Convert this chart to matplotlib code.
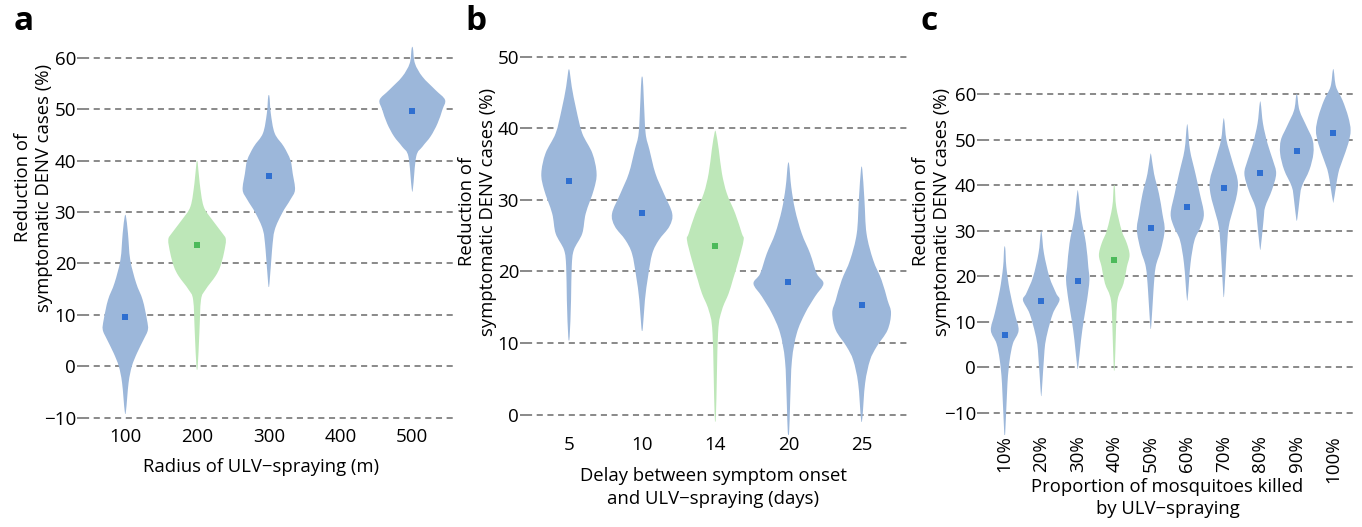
import numpy as np
import matplotlib
matplotlib.use('Agg')
import matplotlib.pyplot as plt
from matplotlib.path import Path
from matplotlib.patches import PathPatch

plt.rcParams['font.family'] = ['Open Sans', 'DejaVu Sans']

# a: radius of ULV-spraying (m)
radius = [100, 200, 300, 500]
radius_mean = [9.5, 23.5, 36.9, 49.6]
# violin outlines: (value, relative half-width)
radius_shape = [
    [(29.1, 0.02), (25.9, 0.08), (20.7, 0.15), (16.2, 0.33), (12.9, 0.53), (9.1, 0.66),
     (7.1, 0.69), (5.2, 0.56), (2.6, 0.36), (0, 0.20), (-3.2, 0.10), (-8.7, 0.02)],
    [(39.5, 0.02), (35.6, 0.08), (31.1, 0.20), (28.5, 0.46), (25.9, 0.77), (24.6, 0.88),
     (22.0, 0.82), (19.4, 0.71), (17.5, 0.56), (14.9, 0.26), (12.9, 0.12), (6.5, 0.07), (0, 0.02)],
    [(52.4, 0.02), (49.2, 0.06), (45.3, 0.18), (42.7, 0.46), (40.1, 0.66), (37.5, 0.73),
     (34.3, 0.80), (32.4, 0.66), (29.8, 0.41), (26.5, 0.18), (22.7, 0.10), (16.1, 0.02)],
    [(61.8, 0.02), (58.9, 0.08), (56.3, 0.31), (53.7, 0.71), (51.8, 1.0), (49.9, 0.92),
     (47.2, 0.77), (44.7, 0.56), (42.7, 0.31), (40.8, 0.12), (34.6, 0.02)],
]
radius_green = [False, True, False, False]

# b: delay between symptom onset and spraying (days)
delay = ['5', '10', '14', '20', '25']
delay_mean = [32.6, 28.2, 23.6, 18.5, 15.3]
delay_shape = [
    [(48.0, 0.02), (45.8, 0.08), (42.6, 0.21), (39.3, 0.38), (36.5, 0.67), (33.7, 0.79),
     (31.4, 0.71), (28.1, 0.48), (25.3, 0.38), (23.0, 0.14), (20.7, 0.08), (16.0, 0.06), (10.9, 0.02)],
    [(46.9, 0.02), (43.9, 0.05), (39.3, 0.10), (37.0, 0.21), (33.7, 0.38), (30.9, 0.62),
     (28.1, 0.86), (26.3, 0.78), (24.4, 0.48), (22.5, 0.29), (19.3, 0.17), (16.0, 0.08), (12.1, 0.02)],
    [(39.4, 0.02), (37.0, 0.10), (33.7, 0.19), (30.9, 0.33), (28.1, 0.57), (25.3, 0.76),
     (24.4, 0.81), (21.6, 0.67), (18.8, 0.50), (16.9, 0.38), (14.6, 0.19), (11.4, 0.08), (0.2, 0.02)],
    [(34.9, 0.02), (31.8, 0.08), (28.6, 0.19), (25.3, 0.38), (22.5, 0.62), (19.7, 0.81),
     (18.3, 1.0), (16.5, 0.76), (14.2, 0.48), (11.4, 0.24), (7.6, 0.10), (2.0, 0.05), (-2.4, 0.02)],
    [(34.2, 0.02), (30.0, 0.08), (25.3, 0.14), (21.6, 0.33), (18.8, 0.57), (16.0, 0.74),
     (14.2, 0.84), (11.8, 0.74), (9.5, 0.43), (7.6, 0.24), (4.4, 0.10), (-0.5, 0.02)],
]
delay_green = [False, False, True, False, False]

# c: proportion of mosquitoes killed
killed = ['10%', '20%', '30%', '40%', '50%', '60%', '70%', '80%', '90%', '100%']
killed_mean = [7.0, 14.6, 19.0, 23.6, 30.5, 35.1, 39.4, 42.6, 47.4, 51.5]
killed_shape = [
    [(26.1, 0.03), (22.0, 0.09), (16.9, 0.27), (11.8, 0.55), (8.1, 0.76), (5.2, 0.45),
     (1.5, 0.27), (-3.6, 0.15), (-14.2, 0.03)],
    [(29.4, 0.03), (25.0, 0.15), (19.8, 0.45), (16.2, 0.82), (14.7, 1.0), (11.8, 0.64),
     (7.4, 0.33), (3.7, 0.18), (-5.4, 0.03)],
    [(38.3, 0.03), (33.0, 0.18), (27.2, 0.45), (22.0, 0.58), (19.1, 0.64), (14.7, 0.51),
     (10.3, 0.33), (5.9, 0.18), (0.2, 0.03)],
    [(39.6, 0.03), (35.2, 0.11), (30.1, 0.40), (27.2, 0.69), (24.6, 0.84), (22.0, 0.69),
     (18.4, 0.51), (14.7, 0.18), (7.4, 0.09), (0, 0.03)],
    [(46.5, 0.03), (42.5, 0.18), (38.1, 0.45), (33.7, 0.64), (30.1, 0.76), (25.7, 0.55),
     (22.0, 0.27), (16.9, 0.15), (9.2, 0.03)],
    [(52.8, 0.03), (47.7, 0.15), (42.5, 0.45), (38.1, 0.69), (33.7, 0.91), (30.8, 0.73),
     (27.9, 0.40), (22.8, 0.18), (15.4, 0.03)],
    [(54.2, 0.03), (49.9, 0.15), (45.5, 0.45), (41.1, 0.76), (38.1, 0.73), (35.2, 0.55),
     (30.8, 0.27), (25.0, 0.15), (16.3, 0.03)],
    [(57.9, 0.03), (53.5, 0.15), (49.1, 0.40), (45.5, 0.69), (42.5, 0.87), (38.9, 0.64),
     (35.2, 0.27), (32.3, 0.18), (26.4, 0.03)],
    [(59.7, 0.03), (56.4, 0.15), (52.8, 0.55), (49.9, 0.87), (46.9, 0.91), (43.3, 0.69),
     (39.6, 0.27), (36.7, 0.15), (32.6, 0.03)],
    [(65.1, 0.03), (61.6, 0.15), (58.6, 0.51), (55.0, 0.82), (52.0, 0.95), (49.1, 0.82),
     (45.5, 0.51), (42.5, 0.27), (36.7, 0.03)],
]
killed_green = [False, False, False, True, False, False, False, False, False, False]

blue_fill, blue_dot = '#9cb7da', '#2f6fd0'
green_fill, green_dot = '#bde7b8', '#4cba5a'
ylab = 'Reduction of\nsymptomatic DENV cases (%)'
FS = 13.3
FW, FH = 1362, 527


def make_ax(x0, x1, y0=40, y1=435):
    ax = fig.add_axes([x0 / FW, (FH - y1) / FH, (x1 - x0) / FW, (y1 - y0) / FH])
    for s in ax.spines.values():
        s.set_visible(False)
    ax.yaxis.grid(True, linestyle=(0, (4, 3)), color='#6a6a6a', lw=1.1)
    ax.set_axisbelow(True)
    ax.tick_params(axis='y', length=4, width=1.1, color='#6a6a6a', pad=1, labelsize=13.5)
    ax.tick_params(axis='x', length=0, labelsize=13.5)
    return ax


def smooth_outline(pts):
    # closed Catmull-Rom outline drawn as cubic Bezier segments
    pts = np.asarray(pts, float)
    n = len(pts)
    verts = [pts[0]]
    codes = [Path.MOVETO]
    for i in range(n):
        p0, p1, p2, p3 = pts[i - 1], pts[i], pts[(i + 1) % n], pts[(i + 2) % n]
        verts += [p1 + (p2 - p0) / 6, p2 - (p3 - p1) / 6, p2]
        codes += [Path.CURVE4] * 3
    return Path(verts, codes)


def violins(ax, pos, shapes, means, green, maxw):
    for p, sh, m, g in zip(pos, shapes, means, green):
        right = [(p + w * maxw, v) for v, w in sh]
        left = [(p - w * maxw, v) for v, w in sh[::-1]]
        ax.add_patch(PathPatch(smooth_outline(right + left), lw=0, zorder=2,
                               facecolor=green_fill if g else blue_fill))
        ax.plot(p, m, marker='s', ms=4, color=green_dot if g else blue_dot,
                mew=0, zorder=3)


def place_labels(ax, xl, yl):
    ax.xaxis.set_label_coords(*xl)
    ax.xaxis.label.set_va('center')
    ax.yaxis.set_label_coords(*yl)
    ax.yaxis.label.set_va('center')


fig = plt.figure(figsize=(FW / 100, FH / 100), dpi=100)

# panel a
ax = make_ax(83, 455, y1=422)
violins(ax, radius, radius_shape, radius_mean, radius_green, 45.6)
ax.set_xlim(41, 559.5)
ax.set_ylim(-10.84, 63.44)
ax.set_xticks([100, 200, 300, 400, 500])
ax.tick_params(axis='x', pad=4)
ax.set_yticks(range(-10, 61, 10))
ax.set_yticklabels(['\u221210'] + [str(v) for v in range(0, 61, 10)])
ax.set_xlabel('Radius of ULV\u2212spraying (m)', fontsize=FS)
ax.set_ylabel(ylab, fontsize=FS, linespacing=1.25)
place_labels(ax, (0.478, -0.118), (-0.133, 0.613))
fig.text(14 / FW, 1 - 30 / FH, 'a', fontsize=24, fontweight='bold', va='baseline')

# panel b
ax = make_ax(526, 907)
violins(ax, range(len(delay)), delay_shape, delay_mean, delay_green, 0.478)
ax.set_xlim(-0.587, 4.62)
ax.set_ylim(-2.84, 52.33)
ax.set_xticks(range(len(delay)))
ax.set_xticklabels(delay)
ax.tick_params(axis='x', pad=1)
ax.set_yticks(range(0, 51, 10))
ax.set_xlabel('Delay between symptom onset\nand ULV\u2212spraying (days)', fontsize=FS,
              linespacing=1.3)
ax.set_ylabel(ylab, fontsize=FS, linespacing=1.2)
place_labels(ax, (0.491, -0.133), (-0.128, 0.565))
fig.text(465 / FW, 1 - 30 / FH, 'b', fontsize=24, fontweight='bold', va='baseline')

# panel c
ax = make_ax(983, 1357)
violins(ax, range(len(killed)), killed_shape, killed_mean, killed_green, 0.50)
ax.set_xlim(-0.595, 9.65)
ax.set_ylim(-14.9, 71.86)
ax.set_xticks(range(len(killed)))
ax.set_xticklabels(killed, rotation=90)
ax.tick_params(axis='x', pad=0)
ax.set_yticks(range(-10, 61, 10))
ax.set_yticklabels(['\u221210'] + [str(v) for v in range(0, 61, 10)])
ax.set_xlabel('Proportion of mosquitoes killed\nby ULV\u2212spraying', fontsize=FS,
              linespacing=1.3)
ax.set_ylabel(ylab, fontsize=FS, linespacing=1.2)
place_labels(ax, (0.493, -0.1595), (-0.137, 0.565))
fig.text(920 / FW, 1 - 30 / FH, 'c', fontsize=24, fontweight='bold', va='baseline')

fig.savefig('out.png', dpi=100)
